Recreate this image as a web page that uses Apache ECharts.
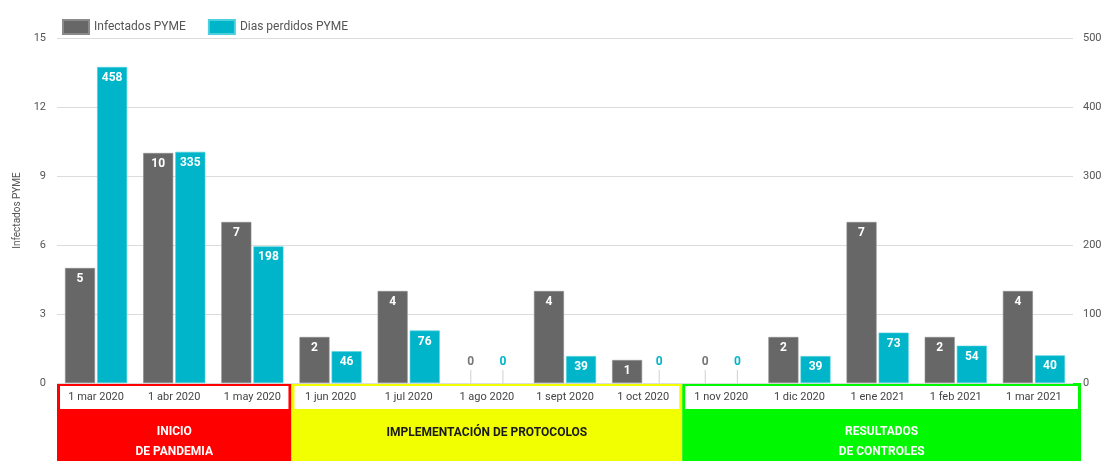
<!DOCTYPE html>
<html><head><meta charset="utf-8">
<script src="https://cdn.jsdelivr.net/npm/echarts@6/dist/echarts.min.js"></script>
<style>html,body{margin:0;padding:0;background:#fff}#c{width:1106px;height:461px}</style>
</head><body><div id="c"></div>
<script>
const categories = ['1 mar 2020','1 abr 2020','1 may 2020','1 jun 2020','1 jul 2020','1 ago 2020','1 sept 2020','1 oct 2020','1 nov 2020','1 dic 2020','1 ene 2021','1 feb 2021','1 mar 2021'];
const infectados = [5,10,7,2,4,0,4,1,0,2,7,2,4];
const diasPerdidos = [458,335,198,46,76,0,39,0,0,39,73,54,40];
const seriesNames = ['Infectados PYME','Dias perdidos PYME'];
const leftTicks = {min:0,max:15,interval:3};
const rightTicks = {min:0,max:500,interval:100};
const groupLabels = ['INICIO\nDE PANDEMIA','IMPLEMENTACIÓN DE PROTOCOLOS','RESULTADOS\nDE CONTROLES'];
const groupStart = [0,3,8];
const groupEnd = [2,7,12];

const groupFill = ['#ff0000','#f2ff00','#00f800'];
const groupText = ['#ffffff','#1a1a1a','#ffffff'];
const GREY = '#676767', CYAN = '#00b5c9';
const FONT = 'Roboto';

function mkData(arr, color){
  return arr.map(v => v === 0 ? {
    value:v,
    itemStyle:{borderWidth:0},
    label:{position:'top', distance:0, formatter:'{v|{c}}\n{s|}',
      rich:{
        v:{color:color, fontFamily:FONT, fontSize:12, fontWeight:'bold', lineHeight:16, align:'center'},
        s:{width:1, height:13, backgroundColor:'#cfcfcf', align:'center'}
      }}
  } : v);
}

const chart = echarts.init(document.getElementById('c'), null, {renderer:'canvas'});
const option = {
  animation:false,
  textStyle:{fontFamily:FONT},
  grid:{left:57, right:33, top:38, bottom:78, containLabel:false},
  legend:{left:57, top:14, itemWidth:26, itemHeight:14, itemGap:22, icon:'rect',
    textStyle:{fontFamily:FONT, fontSize:12, color:'#555'}, data:seriesNames},
  xAxis:{type:'category', data:categories, z:10,
    axisLine:{show:false}, axisTick:{show:false},
    axisLabel:{fontFamily:FONT, fontSize:11, color:'#444', margin:9}},
  yAxis:[
    {type:'value', min:leftTicks.min, max:leftTicks.max, interval:leftTicks.interval,
     name:'Infectados PYME', nameLocation:'middle', nameGap:33, nameRotate:90,
     nameTextStyle:{fontFamily:FONT, fontSize:10, color:'#555'},
     axisLabel:{fontFamily:FONT, fontSize:11, color:'#555', margin:11},
     splitLine:{lineStyle:{color:'#dcdcdc', width:1}}, axisLine:{show:false}, axisTick:{show:false}},
    {type:'value', min:rightTicks.min, max:rightTicks.max, interval:rightTicks.interval,
     axisLabel:{fontFamily:FONT, fontSize:11, color:'#555', margin:10},
     splitLine:{show:false}, axisLine:{show:false}, axisTick:{show:false}}
  ],
  series:[
    {name:seriesNames[0], type:'bar', yAxisIndex:0, data:mkData(infectados, '#777'),
     barWidth:30, barGap:'7%',
     itemStyle:{color:GREY, borderColor:'#8a8a8a', borderWidth:0.6},
     label:{show:true, position:'insideTop', distance:5, color:'#fff', fontFamily:FONT, fontSize:12, fontWeight:'bold'}},
    {name:seriesNames[1], type:'bar', yAxisIndex:1, data:mkData(diasPerdidos, CYAN),
     barWidth:30,
     itemStyle:{color:CYAN, borderColor:'#4cd0de', borderWidth:0.6},
     label:{show:true, position:'insideTop', distance:5, color:'#fff', fontFamily:FONT, fontSize:12, fontWeight:'bold'}}
  ]
};
chart.setOption(option);

// Group bands below the axis, placed from the axis scale
const c0 = chart.convertToPixel({xAxisIndex:0}, 0);
const c1 = chart.convertToPixel({xAxisIndex:0}, 1);
const step = c1 - c0;
const y0 = chart.convertToPixel({yAxisIndex:0}, 0);
const H = 461;
const els = [];
groupLabels.forEach((lab, i) => {
  let x1 = chart.convertToPixel({xAxisIndex:0}, groupStart[i]) - step/2;
  let x2 = chart.convertToPixel({xAxisIndex:0}, groupEnd[i]) + step/2;
  if (i === groupLabels.length-1) x2 += 8;
  const lines = lab.split('\n').length;
  els.push({type:'rect', z:-5, silent:true, shape:{x:x1, y:y0, width:x2-x1, height:H-y0}, style:{fill:groupFill[i]}});
  els.push({type:'rect', z:-4, silent:true, shape:{x:x1+3, y:y0+3, width:x2-x1-6, height:23}, style:{fill:'#fff'}});
  els.push({type:'text', z:-3, silent:true, x:(x1+x2)/2, y:y0+50+(lines-1)*9,
    style:{text:lab, fill:groupText[i], font:'bold 12px Roboto', align:'center', verticalAlign:'middle', lineHeight:20}});
});
chart.setOption({graphic:{elements:els}});
</script></body></html>
